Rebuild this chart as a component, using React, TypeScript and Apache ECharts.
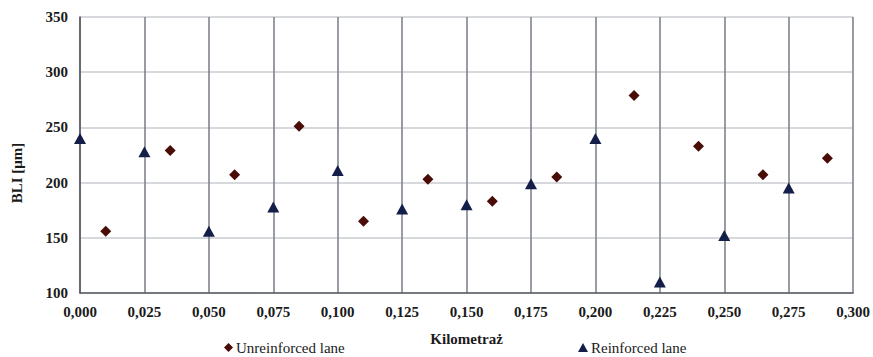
import React, { useEffect, useRef } from "react";
import * as echarts from "echarts";

const unreinforcedX = [0.01, 0.035, 0.06, 0.085, 0.11, 0.135, 0.16, 0.185, 0.215, 0.24, 0.265, 0.29];
const unreinforcedY = [156, 229, 207, 251, 165, 203, 183, 205, 279, 233, 207, 222];
const reinforcedX = [0.0, 0.025, 0.05, 0.075, 0.1, 0.125, 0.15, 0.175, 0.2, 0.225, 0.25, 0.275];
const reinforcedY = [240, 228, 156, 178, 211, 176, 180, 199, 240, 110, 152, 195];

const FONT = "'Liberation Serif', 'Times New Roman', serif";

export default function App() {
  const ref = useRef<HTMLDivElement>(null);
  useEffect(() => {
    if (!ref.current) return;
    const chart = echarts.init(ref.current, undefined, { renderer: "svg" });
    chart.setOption({
      animation: false,
      backgroundColor: "#ffffff",
      grid: { left: 80, right: 19, top: 17, bottom: 64 },
      xAxis: {
        type: "value",
        min: 0,
        max: 0.3,
        interval: 0.025,
        name: "Kilometraż",
        nameLocation: "middle",
        nameGap: 38,
        nameTextStyle: { fontFamily: FONT, fontWeight: "bold", fontSize: 15, color: "#1a1a1a" },
        axisLine: { show: true, lineStyle: { color: "#555a62", width: 1.5 } },
        axisTick: { show: false },
        axisLabel: {
          fontFamily: FONT,
          fontWeight: "bold",
          fontSize: 15,
          color: "#1a1a1a",
          margin: 11,
          formatter: (v: number) => v.toFixed(3).replace(".", ","),
        },
        splitLine: { show: true, lineStyle: { color: "#7f848d", width: 1.6 } },
      },
      yAxis: {
        type: "value",
        min: 100,
        max: 350,
        interval: 50,
        axisLine: { show: true, lineStyle: { color: "#555a62", width: 1.5 } },
        axisTick: { show: false },
        axisLabel: {
          fontFamily: FONT,
          fontWeight: "bold",
          fontSize: 15,
          color: "#1a1a1a",
          margin: 12,
        },
        splitLine: { show: true, lineStyle: { color: "#c9cbcf", width: 1.5 } },
      },
      legend: [
        {
          data: ["Unreinforced lane"],
          left: 224,
          top: 340,
          padding: 0,
          itemWidth: 9,
          itemHeight: 9,
          itemGap: 4,
          textStyle: { fontFamily: FONT, fontSize: 15, color: "#1a1a1a", padding: [0, 0, 0, -2] },
        },
        {
          data: ["Reinforced lane"],
          left: 578,
          top: 340,
          padding: 0,
          itemWidth: 10,
          itemHeight: 9,
          itemGap: 4,
          textStyle: { fontFamily: FONT, fontSize: 15, color: "#1a1a1a", padding: [0, 0, 0, -2] },
        },
      ],
      graphic: [
        {
          type: "text",
          x: 17,
          y: 173,
          rotation: Math.PI / 2,
          style: {
            text: "BLI [μm]",
            font: `bold 15px ${FONT}`,
            fill: "#1a1a1a",
            align: "center",
            verticalAlign: "middle",
          },
        },
      ],
      series: [
        {
          name: "Unreinforced lane",
          type: "scatter",
          symbol: "diamond",
          symbolSize: [11, 11],
          itemStyle: { color: "#4a0c07", opacity: 1 },
          data: unreinforcedX.map((x, i) => [x, unreinforcedY[i]]),
        },
        {
          name: "Reinforced lane",
          type: "scatter",
          symbol: "triangle",
          symbolSize: [12, 11],
          itemStyle: { color: "#131f48", opacity: 1 },
          data: reinforcedX.map((x, i) => [x, reinforcedY[i]]),
        },
      ],
    });
    return () => chart.dispose();
  }, []);
  return (
    <div
      ref={ref}
      style={{ position: "fixed", left: 0, top: 0, width: 873, height: 357, background: "#fff" }}
    />
  );
}
